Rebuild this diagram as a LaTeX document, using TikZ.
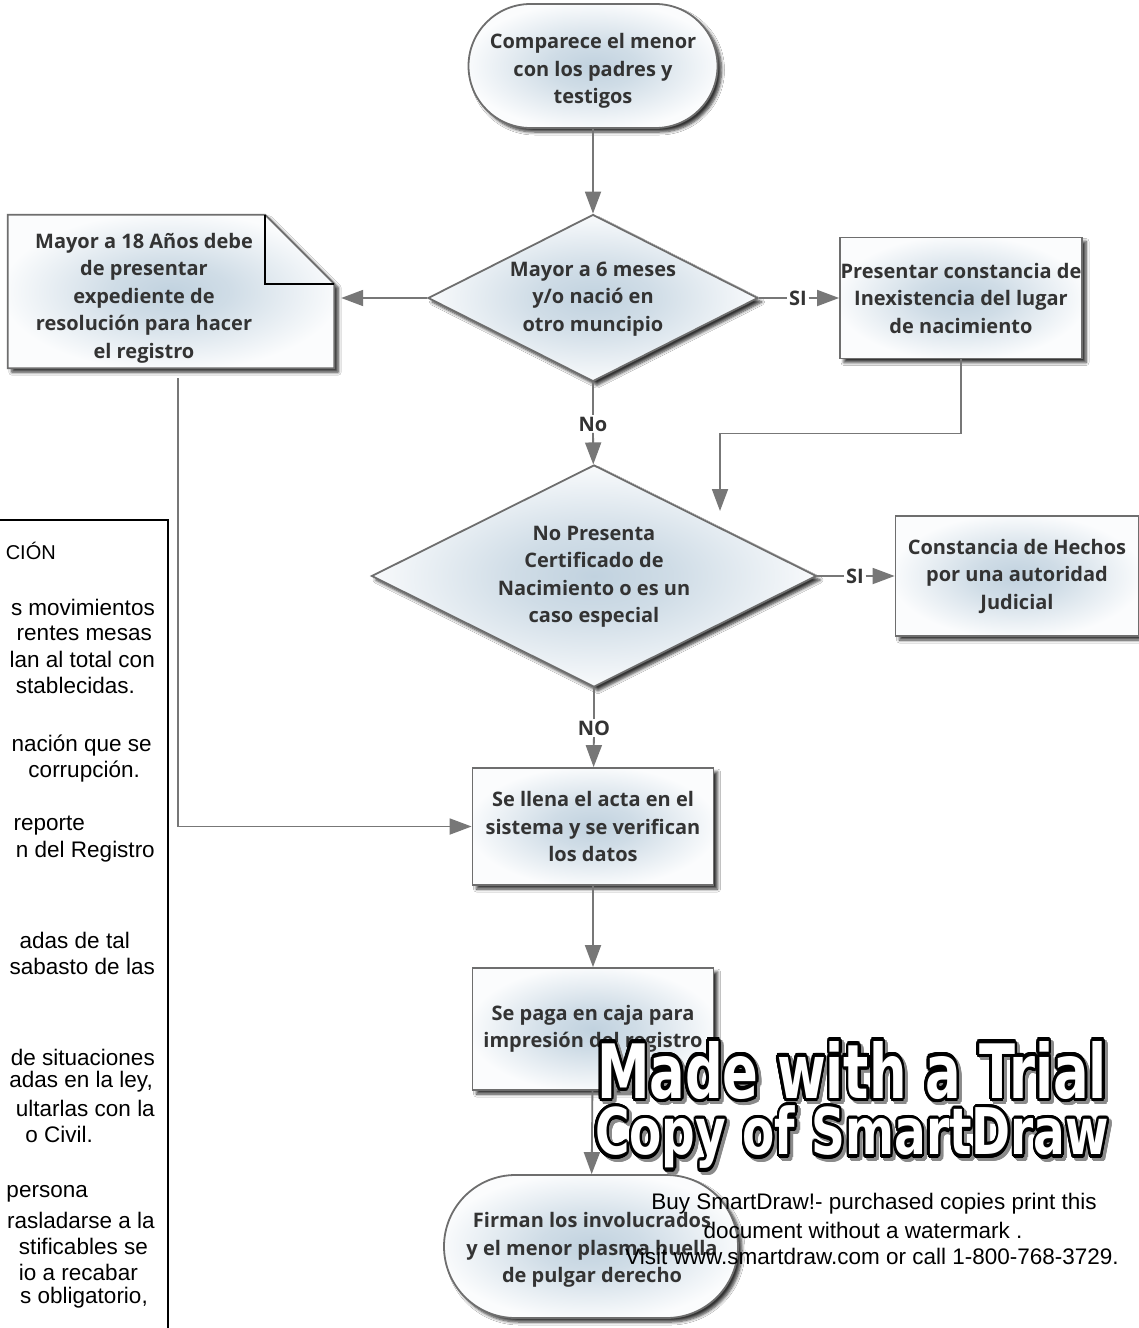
\documentclass[tikz,border=0pt]{standalone}
\usepackage{fontspec}
\setmainfont{Open Sans}
\newfontfamily\arialfont{Liberation Sans}
\newfontfamily\heavyfont{DejaVu Sans}
\usepackage[copies]{contour}
\contourlength{0.05em}
\contournumber{24}
\usetikzlibrary{shapes.geometric,shapes.misc,arrows.meta,shadows.blur,calc}

\definecolor{ink}{HTML}{333333}
\definecolor{edge}{HTML}{6E6E6E}
\definecolor{wire}{HTML}{777777}
\definecolor{core}{RGB}{193,210,223}
\definecolor{rim}{RGB}{251,252,253}
\definecolor{wmshade}{HTML}{8A8A8A}

% soft blue-grey glow used inside every flowchart shape
\pgfdeclareradialshading{glow}{\pgfpointorigin}{%
  color(0bp)=(core); color(9bp)=(core!75!rim); color(26bp)=(rim); color(50bp)=(rim)}

\tikzset{
  shapebase/.style={draw=edge, line width=1.8pt, shading=glow,
    blur shadow={shadow xshift=4pt, shadow yshift=-4pt, shadow blur radius=3pt,
      shadow blur steps=6, shadow opacity=80}},
  flowtxt/.style={text=ink, align=center, inner sep=0pt,
    font=\bfseries\fontsize{20}{27.5}\selectfont},
  terminal/.style={rounded rectangle, shapebase, inner sep=0pt},
  decision/.style={diamond, shapebase, inner sep=0pt},
  process/.style={rectangle, shapebase, flowtxt},
  answer/.style={text=ink, inner sep=1.5pt, font=\bfseries\fontsize{20}{24}\selectfont},
  wireline/.style={draw=wire, line width=1.8pt},
  conn/.style={wireline, -{Triangle[length=22pt,width=16pt]}},
  anntxt/.style={anchor=east, inner sep=0pt, font=\arialfont\fontsize{22.5}{26}\selectfont},
  anntitle/.style={anchor=east, inner sep=0pt, font=\arialfont\fontsize{20}{26}\selectfont},
  wmsmall/.style={inner sep=0pt, font=\arialfont\fontsize{22.5}{26}\selectfont},
}

\begin{document}
\begin{tikzpicture}[x=1pt,y=-1pt]
\useasboundingbox (0,0) rectangle (1139,1328);
\fill[white] (0,0) rectangle (1139,1328);

% ---------- side panel with the explanatory notes ----------
\draw[black, line width=1.5pt] (-10,520) -- (168,520) -- (168,1340);
\node[anntitle] (ann0) at (56,551) {CIÓN};
\foreach \x/\y/\t [count=\i] in {
  155/607/s movimientos,
  152/633/rentes mesas,
  155/659/lan al total con,
  135/685/stablecidas.,
  152/746/nación que se,
  140/772/corrupción.,
  85/826/reporte,
  155/852/n del Registro,
  130/940/adas de tal,
  155/966/sabasto de las,
  155/1057/de situaciones,
  153/1082/{adas en la ley,},
  155/1108/ultarlas con la,
  93/1134/o Civil.,
  88/1194/persona,
  155/1220/rasladarse a la,
  148/1246/stificables se,
  138/1272/io a recabar,
  148/1298/{s obligatorio,}}
  \node[anntxt] (ann\i) at (\x,\y) {\t};

% ---------- flowchart shapes ----------
\node[terminal, minimum width=249pt, minimum height=124pt] (start) at (593,66) {};
\node[flowtxt] (startt) at (593,71) {Comparece el menor\\con los padres y\\testigos};

\node[decision, minimum width=330pt, minimum height=167pt] (d1) at (593,298) {};
\node[flowtxt] (d1t) at (593,299) {Mayor a 6 meses\\y/o nació en\\otro muncipio};

% folded note
\node[minimum width=326pt, minimum height=153pt, inner sep=0pt] (note) at (171,291.5) {};
\path[shapebase] (note.north west) -- ($(note.north east)+(-69,0)$)
  -- ($(note.north east)+(0,69)$) -- (note.south east) -- (note.south west) -- cycle;
\draw[black, line width=1.5pt] ($(note.north east)+(-69,0)$) -- ($(note.north east)+(-69,69)$)
  -- ($(note.north east)+(0,69)$);
\node[flowtxt] (notet) at (144,298) {Mayor a 18 Años debe\\de presentar\\expediente de\\resolución para hacer\\el registro};

\node[process, minimum width=242pt, minimum height=121pt] (pres) at (961,298)
  {Presentar constancia de\\Inexistencia del lugar\\de nacimiento};

\node[decision, minimum width=445pt, minimum height=222pt] (d2) at (594,576) {};
\node[flowtxt] (d2t) at (594,577) {No Presenta\\Certificado de\\Nacimiento o es un\\caso especial};

\node[process, minimum width=243pt, minimum height=120pt] (hech) at (1017,576)
  {Constancia de Hechos\\por una autoridad\\Judicial};

\node[process, minimum width=241pt, minimum height=117pt] (llena) at (593,826.5)
  {Se llena el acta en el\\sistema y se verifican\\los datos};

\node[process, minimum width=241pt, minimum height=122pt] (paga) at (593,1029)
  {Se paga en caja para\\impresión del registro};

\node[terminal, minimum width=294pt, minimum height=143pt] (fin) at (591,1246.5) {};
\node[flowtxt] (fint) at (592,1250) {Firman los involucrados\\y el menor plasma huella\\de pulgar derecho};

% ---------- answers ----------
\node[answer] (no1) at (593,424) {No};
\node[answer] (si1) at (798,298) {SI};
\node[answer] (no2) at (594,728) {NO};
\node[answer] (si2) at (855,576) {SI};

% ---------- connectors ----------
\draw[conn] (start) -- (d1);
\draw[wireline] (d1) -- (no1);
\draw[conn] (no1) -- (d2);
\draw[wireline] (d1) -- (si1);
\draw[conn] (si1) -- (si1 -| pres.west);
\draw[conn, shorten >=7pt] (d1.west) -- (d1.west -| note.east);
\coordinate (d2in) at (720,511);
\draw[conn] (pres.south) -- ($(pres.south)+(0,74)$) -| (d2in);
\draw[wireline] (d2) -- (si2);
\draw[conn] (si2) -- (hech);
\draw[wireline] (d2) -- (no2);
\draw[conn] (no2) -- (llena);
\draw[conn] ($(note.south)+(7,10)$) |- (llena.west);
\draw[conn] (llena) -- (paga);
\draw[conn] (paga) -- (fin);

% ---------- trial stamp ----------
\node[inner sep=0pt] (wm1s) at (855,1075)
  {\resizebox{510pt}{57pt}{\fontsize{75}{80}\heavyfont\bfseries\contour{wmshade}{\textcolor{wmshade}{Made with a Trial}}}};
\node[inner sep=0pt] (wm1) at (852,1072)
  {\resizebox{510pt}{57pt}{\fontsize{75}{80}\heavyfont\bfseries\contour{black}{\textcolor{white}{Made with a Trial}}}};
\node[inner sep=0pt] (wm2s) at (855,1142)
  {\resizebox*{514pt}{66pt}{\fontsize{75}{80}\heavyfont\bfseries\contour{wmshade}{\textcolor{wmshade}{Copy of SmartDraw}}}};
\node[inner sep=0pt] (wm2) at (852,1139)
  {\resizebox*{514pt}{66pt}{\fontsize{75}{80}\heavyfont\bfseries\contour{black}{\textcolor{white}{Copy of SmartDraw}}}};
\node[wmsmall] (wm3) at (874,1204) {Buy SmartDraw!- purchased copies print this};
\node[wmsmall] (wm4) at (863,1230) {document without a watermark .};
\node[wmsmall] (wm5) at (872,1256) {Visit www.smartdraw.com or call 1-800-768-3729.};
\end{tikzpicture}
\end{document}
